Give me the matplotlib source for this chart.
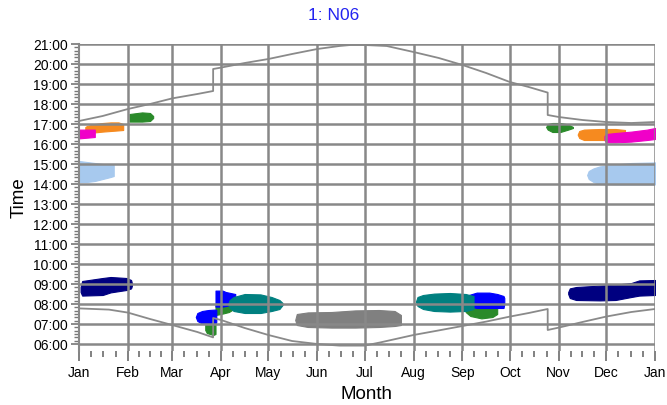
import matplotlib
matplotlib.use("Agg")
import matplotlib.pyplot as plt
import numpy as np

plt.rcParams['font.family'] = ['Liberation Sans', 'DejaVu Sans']

# ---- data ----
month_labels = ["Jan", "Feb", "Mar", "Apr", "May", "Jun", "Jul", "Aug", "Sep", "Oct", "Nov", "Dec", "Jan"]
month_starts = [0, 31, 59, 90, 120, 151, 181, 212, 243, 273, 304, 334, 365]
hour_ticks = list(range(6, 22))
hour_labels = [f"{h:02d}:00" for h in hour_ticks]

sunset_days = [0, 15, 31, 45, 59, 75, 85, 85, 90, 105, 120, 135, 151, 165, 172, 181, 195, 212, 228, 243, 258, 273, 285, 297, 297, 304, 319, 334, 350, 365]
sunset_time = [17.15, 17.4, 17.75, 18.0, 18.28, 18.5, 18.65, 19.75, 19.82, 20.05, 20.25, 20.5, 20.75, 20.9, 20.95, 20.95, 20.9, 20.6, 20.3, 19.95, 19.55, 19.1, 18.85, 18.57, 17.45, 17.35, 17.2, 17.1, 17.05, 17.1]

sunrise_days = [0, 19, 31, 45, 59, 75, 85, 85, 90, 105, 120, 135, 151, 165, 181, 191, 212, 228, 243, 258, 273, 285, 297, 297, 304, 319, 334, 350, 365]
sunrise_time = [7.78, 7.72, 7.57, 7.25, 6.95, 6.6, 6.33, 7.3, 7.2, 6.8, 6.45, 6.15, 6.0, 5.92, 5.92, 6.08, 6.45, 6.68, 6.9, 7.12, 7.37, 7.55, 7.75, 6.7, 6.82, 7.1, 7.37, 7.6, 7.75]

# glare patches: days, start time, end time
lightblue_jan_days = [0, 5, 10, 15, 20, 22]
lightblue_jan_lo = [14.1, 14.1, 14.15, 14.25, 14.35, 14.4]
lightblue_jan_hi = [15.15, 15.1, 15.05, 15.0, 14.97, 14.95]
lightblue_dec_days = [322, 323, 326, 330, 340, 350, 365]
lightblue_dec_lo = [14.45, 14.25, 14.1, 14.0, 13.98, 13.98, 13.98]
lightblue_dec_hi = [14.45, 14.65, 14.78, 14.88, 14.98, 15.05, 15.08]

orange_jan_days = [4, 5, 10, 15, 20, 25, 28]
orange_jan_lo = [16.55, 16.55, 16.58, 16.62, 16.65, 16.68, 16.7]
orange_jan_hi = [16.85, 16.9, 17.0, 17.05, 17.08, 17.08, 17.0]
orange_dec_days = [316, 317, 320, 330, 340, 346]
orange_dec_lo = [16.47, 16.3, 16.2, 16.2, 16.2, 16.25]
orange_dec_hi = [16.47, 16.65, 16.72, 16.75, 16.75, 16.7]

magenta_jan_days = [0, 10]
magenta_jan_lo = [16.28, 16.35]
magenta_jan_hi = [16.72, 16.72]
magenta_dec_days = [333, 334, 340, 350, 360, 365]
magenta_dec_lo = [16.2, 16.08, 16.08, 16.12, 16.2, 16.25]
magenta_dec_hi = [16.4, 16.5, 16.55, 16.62, 16.72, 16.8]

green_feb_days = [32, 40, 45, 47]
green_feb_lo = [17.12, 17.12, 17.15, 17.3]
green_feb_hi = [17.5, 17.58, 17.55, 17.4]
green_nov_days = [296, 297, 300, 305, 310, 313]
green_nov_lo = [16.85, 16.72, 16.6, 16.6, 16.72, 16.8]
green_nov_hi = [16.85, 17.0, 17.05, 17.05, 16.98, 16.85]
green_mar_days = [80, 81, 85, 86.5]
green_mar_lo = [6.7, 6.55, 6.45, 6.5]
green_mar_hi = [7.05, 7.05, 7.05, 7.05]
green_apr_days = [86.5, 90, 95, 98]
green_apr_lo = [7.45, 7.5, 7.6, 7.75]
green_apr_hi = [7.95, 7.95, 7.95, 7.9]
green_sep_days = [245, 248, 255, 262, 265]
green_sep_lo = [7.6, 7.4, 7.28, 7.35, 7.5]
green_sep_hi = [7.9, 7.9, 7.9, 7.9, 7.85]

navy_jan_days = [1, 2, 15, 20, 30, 33, 33.5]
navy_jan_lo = [8.6, 8.42, 8.45, 8.58, 8.7, 8.78, 8.9]
navy_jan_hi = [8.85, 9.15, 9.3, 9.35, 9.3, 9.2, 9.05]
navy_dec_days = [310, 311, 315, 330, 340, 350, 355, 365]
navy_dec_lo = [8.5, 8.3, 8.2, 8.18, 8.2, 8.35, 8.42, 8.45]
navy_dec_hi = [8.6, 8.78, 8.85, 8.92, 8.97, 9.05, 9.18, 9.2]

blue_mar_days = [74, 75, 78, 82, 86, 87]
blue_mar_lo = [7.35, 7.15, 7.02, 7.0, 7.0, 7.1]
blue_mar_hi = [7.35, 7.55, 7.65, 7.7, 7.72, 7.7]
blue_apr_days = [86.5, 91, 93, 96, 99]
blue_apr_lo = [7.87, 7.87, 7.9, 7.95, 8.0]
blue_apr_hi = [8.67, 8.67, 8.6, 8.55, 8.5]
blue_sep_days = [245, 247, 252, 260, 265, 269, 269.5]
blue_sep_lo = [8.1, 7.9, 7.8, 7.8, 7.8, 7.8, 8.0]
blue_sep_hi = [8.3, 8.45, 8.57, 8.57, 8.5, 8.4, 8.3]

teal_apr_days = [94.5, 95.5, 98, 105, 115, 122, 127, 129]
teal_apr_lo = [8.0, 7.8, 7.65, 7.55, 7.55, 7.65, 7.75, 7.95]
teal_apr_hi = [8.0, 8.2, 8.35, 8.5, 8.48, 8.35, 8.2, 8.05]
teal_aug_days = [213.5, 214.5, 218, 225, 235, 245, 250]
teal_aug_lo = [8.12, 7.9, 7.75, 7.65, 7.62, 7.65, 7.75]
teal_aug_hi = [8.12, 8.35, 8.45, 8.52, 8.55, 8.5, 8.4]

gray_jun_days = [137, 138, 145, 160, 175, 190, 200, 204]
gray_jun_lo = [7.2, 6.95, 6.85, 6.82, 6.82, 6.85, 6.9, 6.95]
gray_jun_hi = [7.2, 7.5, 7.58, 7.6, 7.68, 7.7, 7.65, 7.45]

C_LIGHTBLUE = '#A7C9EE'
C_ORANGE = '#F68A1F'
C_MAGENTA = '#F000C8'
C_GREEN = '#2A8A2A'
C_NAVY = '#000080'
C_BLUE = '#0000FF'
C_TEAL = '#008080'
C_GRAY = '#808080'

patches = [
    (lightblue_jan_days, lightblue_jan_lo, lightblue_jan_hi, C_LIGHTBLUE),
    (lightblue_dec_days, lightblue_dec_lo, lightblue_dec_hi, C_LIGHTBLUE),
    (orange_jan_days, orange_jan_lo, orange_jan_hi, C_ORANGE),
    (orange_dec_days, orange_dec_lo, orange_dec_hi, C_ORANGE),
    (magenta_jan_days, magenta_jan_lo, magenta_jan_hi, C_MAGENTA),
    (magenta_dec_days, magenta_dec_lo, magenta_dec_hi, C_MAGENTA),
    (green_feb_days, green_feb_lo, green_feb_hi, C_GREEN),
    (green_nov_days, green_nov_lo, green_nov_hi, C_GREEN),
    (green_mar_days, green_mar_lo, green_mar_hi, C_GREEN),
    (green_apr_days, green_apr_lo, green_apr_hi, C_GREEN),
    (green_sep_days, green_sep_lo, green_sep_hi, C_GREEN),
    (navy_jan_days, navy_jan_lo, navy_jan_hi, C_NAVY),
    (navy_dec_days, navy_dec_lo, navy_dec_hi, C_NAVY),
    (blue_mar_days, blue_mar_lo, blue_mar_hi, C_BLUE),
    (blue_apr_days, blue_apr_lo, blue_apr_hi, C_BLUE),
    (blue_sep_days, blue_sep_lo, blue_sep_hi, C_BLUE),
    (teal_apr_days, teal_apr_lo, teal_apr_hi, C_TEAL),
    (teal_aug_days, teal_aug_lo, teal_aug_hi, C_TEAL),
    (gray_jun_days, gray_jun_lo, gray_jun_hi, C_GRAY),
]

# ---- figure ----
fig = plt.figure(figsize=(6.67, 4.05), dpi=100)
ax = fig.add_axes([79 / 667, 1 - 351 / 405, (655 - 79) / 667, (351 - 44) / 405])

for d, lo, hi, c in patches:
    ax.fill_between(d, lo, hi, color=c, linewidth=0.8, edgecolor=c, zorder=1)

ax.plot(sunset_days, sunset_time, color='#8a8a8a', lw=1.3, zorder=1.5)
ax.plot(sunrise_days, sunrise_time, color='#8a8a8a', lw=1.3, zorder=1.5)

grid_c = '#888888'
for d in month_starts[1:]:
    ax.axvline(d, color=grid_c, lw=1.8, zorder=2)
for h in hour_ticks:
    ax.axhline(h, color=grid_c, lw=1.8, zorder=2)

ax.set_xlim(0, 365)
ax.set_ylim(5.65, 21.0)

ax.set_xticks(month_starts)
ax.set_xticklabels(month_labels, fontsize=10)
minor_x = []
for a, b in zip(month_starts[:-1], month_starts[1:]):
    minor_x += [a + (b - a) * k / 4 for k in (1, 2, 3)]
ax.set_xticks(minor_x, minor=True)

ax.set_yticks(hour_ticks)
ax.set_yticklabels(hour_labels, fontsize=10)
ax.set_yticks([6 + k / 6 for k in range(0, 15 * 6 + 1) if k % 6 != 0], minor=True)

ax.tick_params(axis='x', which='major', length=7, width=1.3, color='#777777', pad=4)
ax.tick_params(axis='x', which='minor', length=4, width=1.3, color='#777777')
ax.tick_params(axis='y', which='major', length=6, width=1.2, color='#777777', pad=2)
ax.tick_params(axis='y', which='minor', length=3.5, width=1.0, color='#777777')

for s in ['top', 'right', 'bottom']:
    ax.spines[s].set_visible(False)
ax.spines['left'].set_color('#888888')
ax.spines['left'].set_linewidth(1.5)

ax.set_xlabel("Month", fontsize=13.5, labelpad=4)
ax.set_ylabel("Time", fontsize=13.5, labelpad=4)
fig.text(0.5, 1 - 16 / 405, "1: N06", color='#2323F0', fontsize=12.5, ha='center', va='center')

fig.savefig("out.png", dpi=100)
